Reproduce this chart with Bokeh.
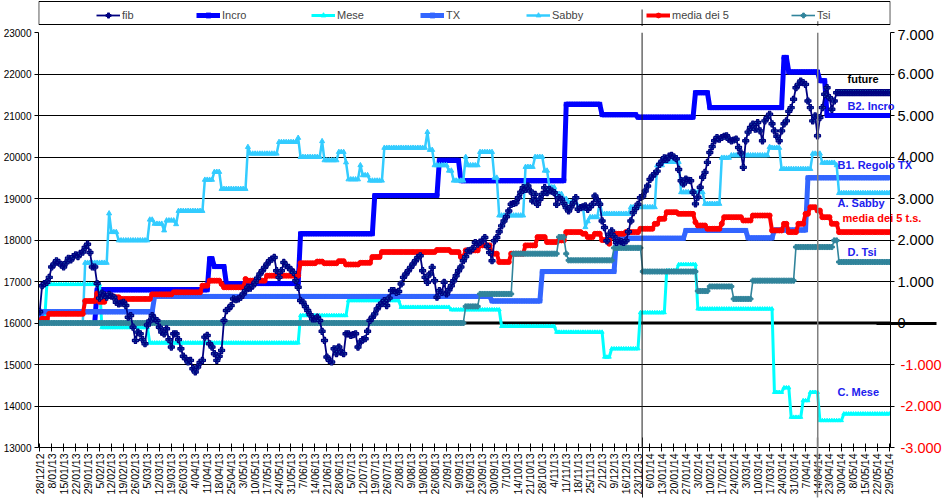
import math
from bokeh.plotting import figure
from bokeh.layouts import column
from bokeh.models import (Range1d, LinearAxis, FixedTicker, Legend, LegendItem,
                          Span, BoxAnnotation)
from bokeh.embed import file_html
from bokeh.resources import INLINE

NaN = float("nan")

date_labels = ["28/12/12", "8/01/13", "15/01/13", "22/01/13", "29/01/13", "5/02/13", "12/02/13",
               "19/02/13", "26/02/13", "5/03/13", "12/03/13", "19/03/13", "26/03/13", "4/04/13",
               "11/04/13", "18/04/13", "25/04/13", "3/05/13", "10/05/13", "17/05/13", "24/05/13",
               "31/05/13", "7/06/13", "14/06/13", "21/06/13", "28/06/13", "5/07/13", "12/07/13",
               "19/07/13", "26/07/13", "2/08/13", "9/08/13", "19/08/13", "26/08/13", "2/09/13",
               "9/09/13", "16/09/13", "23/09/13", "30/09/13", "7/10/13", "14/10/13", "21/10/13",
               "28/10/13", "4/11/13", "11/11/13", "18/11/13", "25/11/13", "2/12/13", "9/12/13",
               "16/12/13", "23/12/13", "6/01/14", "13/01/14", "20/01/14", "27/01/14", "3/02/14",
               "10/02/14", "17/02/14", "24/02/14", "3/03/14", "10/03/14", "17/03/14", "24/03/14",
               "31/03/14", "7/04/14", "14/04/14", "23/04/14", "30/04/14", "8/05/14", "15/05/14",
               "22/05/14", "29/05/14"]

# future (left axis)
fib = [16270, 16900, 16950, 16980, 17100, 17350, 17420, 17500, 17460, 17400,
       17350, 17450, 17560, 17520, 17600, 17640, 17600, 17680, 17710, 17820,
       17900, 17700, 17350, 17350, 16950, 16600, 16720, 16680, 16620, 16690,
       16650, 16620, 16500, 16460, 16480, 16500, 16420, 16140, 16180, 15900,
       15580, 15780, 15740, 15600, 15500, 15950, 16050, 16180, 16100, 16060,
       15900, 15780, 15740, 15860, 15600, 15420, 15740, 15740, 15600, 15380,
       15200, 15140, 15060, 15100, 14900, 14820, 14940, 15050, 15100, 15660,
       15700, 15500, 15420, 15260, 15100, 15200, 15340, 16060, 16300, 16350,
       16420, 16580, 16560, 16580, 16620, 16700, 16780, 16860, 16840, 16900,
       16980, 17080, 17180, 17260, 17340, 17420, 17500, 17540, 17580, 17260,
       17100, 17260, 17460, 17380, 17340, 17280, 17220, 17020, 16860, 16540,
       16500, 16400, 16300, 16200, 16100, 16100, 16140, 16060, 15800, 15580,
       15180, 15100, 15060, 15380, 15260, 15420, 15300, 15260, 15740, 15740,
       15700, 15720, 15740, 15420, 15540, 15600, 15620, 15800, 16060, 16140,
       16220, 16340, 16420, 16480, 16540, 16420, 16600, 16780, 16780, 16740,
       16760, 16940, 17100, 17180, 17260, 17340, 17420, 17500, 17580, 17620,
       17260, 17100, 16980, 17180, 17340, 17020, 16620, 16780, 16740, 16980,
       16700, 16800, 16900, 17020, 17140, 17260, 17350, 17500, 17600, 17740,
       17740, 17800, 17940, 17900, 17950, 17980, 18060, 17850, 17700, 17500,
       17980, 18060, 18200, 18340, 18460, 18560, 18700, 18860, 18880, 18900,
       19020, 19150, 19260, 19220, 19300, 19180, 18940, 19100, 18860, 18980,
       19100, 19260, 19140, 19220, 19180, 19140, 18860, 19020, 18980, 18880,
       18780, 18700, 18800, 18900, 19020, 18740, 18780, 18800, 18820, 18740,
       18800, 18860, 19060, 18960, 18860, 18460, 18300, 17980, 18140, 18220,
       18080, 17940, 17980, 17960, 17940, 17980, 18200, 18460, 18660, 18760,
       18860, 19020, 19060, 19180, 19300, 19460, 19540, 19600, 19660, 19820,
       19900, 19980, 19940, 20020, 20040, 20000, 19960, 19700, 19430, 19350,
       19470, 19440, 19430, 19150, 18870, 19030, 19270, 19510, 19630, 19870,
       20110, 20250, 20390, 20470, 20430, 20470, 20500, 20510, 20430, 20390,
       20410, 20430, 20230, 20100, 19750, 20390, 20600, 20710, 20790, 20670,
       20830, 20630, 20390, 20870, 20950, 21030, 20800, 20630, 20500, 20390,
       20630, 20800, 20870, 21100, 21190, 21390, 21670, 21750, 21830, 21790,
       21750, 21350, 21190, 20870, 20990, 20510, 20950, 21190, 21510, 21670,
       21430, 21150, 21350, 21550, 21550, 21550, 21550, 21550, 21550, 21550,
       21550, 21550, 21550, 21550, 21550, 21550, 21550, 21550, 21550, 21550,
       21550, 21550, 21550, 21550, 21550, 21550]

# trading systems (right axis), stored as (value, number of days)
incro_runs = [(NaN, 23), (0, 1), (800, 47), (1550, 2), (1360, 5), (950, 31), (2150, 31), (3070, 27),
              (3920, 9), (3430, 44), (5270, 15), (5020, 15), (4960, 24), (5550, 6), (5190, 31),
              (6400, 2), (6050, 13), (5840, 3), (5000, 27)]
mese_runs = [(0, 3), (930, 23), (-110, 20), (-480, 63), (180, 20), (540, 22), (380, 21), (320, 21),
             (-80, 23), (-220, 20), (-820, 3), (-620, 12), (250, 11), (1260, 5), (1410, 8),
             (340, 32), (-1670, 4), (-1560, 3), (-2270, 5), (-1870, 3), (-1670, 4), (-2350, 10),
             (-2190, 20)]
tx_runs = [(0, 1), (270, 47), (640, 141), (530, 21), (1240, 31), (2040, 29), (2230, 26),
           (2050, 11), (2240, 14), (3500, 35)]
sabby_runs = [(NaN, 18), (0, 1), (1450, 10), (2640, 1), (2190, 3), (1990, 13), (2490, 2), (2390, 4),
              (2230, 1), (2470, 4), (2380, 1), (2700, 11), (3450, 4), (3640, 3), (3230, 11),
              (4240, 1), (4080, 12), (4360, 8), (4460, 1), (4000, 9), (4380, 1), (3920, 6),
              (4120, 3), (3870, 1), (3460, 5), (3800, 1), (3560, 3), (3430, 6), (4220, 18),
              (4600, 1), (4170, 2), (3800, 6), (3670, 2), (3430, 5), (4000, 1), (3800, 5),
              (4120, 6), (3500, 2), (2590, 11), (3760, 4), (4000, 4), (3670, 2), (3270, 3),
              (3110, 3), (2990, 2), (2910, 4), (2790, 3), (2310, 1), (2450, 1), (2550, 4),
              (2910, 1), (2630, 12), (2790, 11), (3800, 3), (3880, 7), (3150, 10), (2870, 7),
              (3980, 4), (4040, 16), (4240, 1), (4220, 4), (3710, 13), (4080, 4), (3860, 6),
              (3800, 1), (3130, 22)]
media_runs = [(20, 1), (100, 3), (220, 15), (530, 5), (710, 1), (510, 3), (660, 3), (620, 3),
              (580, 13), (690, 9), (740, 12), (900, 3), (1020, 5), (940, 1), (860, 9), (1060, 1),
              (1020, 8), (1140, 14), (1440, 7), (1480, 3), (1440, 6), (1490, 3), (1410, 6),
              (1450, 5), (1590, 4), (1710, 23), (1760, 6), (1710, 4), (1590, 2), (1750, 6),
              (1870, 5), (1670, 3), (1470, 5), (1670, 6), (1870, 5), (2070, 4), (1950, 5),
              (1990, 3), (2190, 7), (2150, 2), (2070, 3), (2150, 3), (2000, 3), (1910, 1),
              (2150, 6), (2190, 6), (2270, 6), (2390, 2), (2510, 3), (2670, 5), (2630, 7),
              (2430, 1), (2350, 4), (2270, 6), (2390, 1), (2550, 8), (2470, 4), (2590, 8),
              (2230, 5), (2390, 2), (2190, 4), (2390, 3), (2630, 2), (2790, 3), (2710, 2),
              (2550, 4), (2390, 3), (2190, 22)]
tsi_runs = [(0, 178), (400, 6), (700, 14), (1670, 19), (2070, 3), (1670, 1), (1510, 19),
            (1810, 12), (1240, 23), (770, 5), (880, 10), (580, 8), (1020, 18), (1830, 16),
            (1990, 2), (1470, 22)]

left_ticks = list(range(13000, 23001, 1000))
right_ticks = list(range(-3000, 7001, 1000))
event_days = [251.7, 325.1]   # the two vertical marker lines
event_colors = ["#202020", "#808080"]
event_widths = [1, 1.5]

# end-of-line series names (left-axis level where each name sits)
name_black = {21870: "future"}
name_blue_a = {21217: "B2. Incro", 17711: "D. Tsi"}
name_blue_b = {19819: "B1. Regolo TX", 18892: "A. Sabby", 14349: "C. Mese"}
name_red = {18530: "media dei 5 t.s."}


def expand(runs):
    out = []
    for v, k in runs:
        out.extend([v] * k)
    return out


incro = expand(incro_runs)
mese = expand(mese_runs)
tx = expand(tx_runs)
sabby = expand(sabby_runs)
media = expand(media_runs)
tsi = expand(tsi_runs)

n = len(fib)
xs = list(range(n))
FONT = "Liberation Sans"
NAVY = "#000080"
BLUE_TXT = "#2020EE"

styles = {
    "Incro": ("#0000FF", 5, "square", 4),
    "Mese": ("#00FFFF", 3, "triangle", 4),
    "TX": ("#3366FF", 5, "square", 4),
    "Sabby": ("#33CCFF", 2.5, "triangle", 5),
    "media dei 5": ("#FF0000", 4, "circle", 5),
    "Tsi": ("#31849B", 1.6, "plus", 5),
}

# ---------------------------------------------------------------- main chart
p = figure(width=945, height=473, output_backend="svg", toolbar_location=None,
           x_range=Range1d(-0.5, n - 0.5), y_range=Range1d(13000, 23000),
           min_border_left=37, min_border_right=55, min_border_top=6, min_border_bottom=52,
           background_fill_color="white", border_fill_color="white")
p.outline_line_color = None
p.extra_y_ranges = {"r": Range1d(-3000, 7000)}

xa = p.xaxis[0]
xa.ticker = FixedTicker(ticks=list(range(0, n, 5)))
xa.major_label_overrides = {i * 5: lab for i, lab in enumerate(date_labels)}
xa.major_label_orientation = math.pi / 2
xa.major_tick_in = 4
xa.major_tick_out = 4
xa.minor_tick_line_color = None
xa.axis_line_color = "black"
xa.major_tick_line_color = "black"
xa.major_label_text_font = FONT
xa.major_label_text_font_size = "10.5px"
xa.major_label_text_color = "black"
xa.major_label_standoff = 2

ya = p.yaxis[0]
ya.ticker = FixedTicker(ticks=left_ticks)
ya.major_tick_in = 0
ya.major_tick_out = 4
ya.minor_tick_line_color = None
ya.axis_line_color = "black"
ya.major_tick_line_color = "black"
ya.major_label_text_font = FONT
ya.major_label_text_font_size = "10px"
ya.major_label_text_color = "black"
ya.major_label_standoff = 3

p.xgrid.visible = False
p.ygrid.ticker = ya.ticker
p.ygrid.grid_line_color = "black"
p.ygrid.grid_line_width = 1


def plain_axis(ticks, overrides, range_name=None):
    kw = {"y_range_name": range_name} if range_name else {}
    ax = LinearAxis(ticker=FixedTicker(ticks=ticks), **kw)
    ax.major_label_overrides = overrides
    ax.axis_line_color = None
    ax.major_tick_line_color = None
    ax.minor_tick_line_color = None
    ax.major_tick_in = 0
    ax.major_tick_out = 0
    ax.major_label_text_font = FONT
    return ax


# right axis: black labels for values >= 0
ra = LinearAxis(y_range_name="r", ticker=FixedTicker(ticks=right_ticks))
ra.major_label_overrides = {v: (f"{v // 1000}.000" if v > 0 else ("0" if v == 0 else " "))
                            for v in right_ticks}
ra.major_tick_in = 0
ra.major_tick_out = 4
ra.minor_tick_line_color = None
ra.axis_line_color = "black"
ra.major_tick_line_color = "black"
ra.major_label_text_font = FONT
ra.major_label_text_font_size = "14.5px"
ra.major_label_text_color = "black"
ra.major_label_standoff = 3
p.add_layout(ra, "right")

# zero-level axis crossing running past the right axis (tick drawn back toward the plot)
az = plain_axis([0], {0: ""}, "r")
az.major_tick_line_color = "black"
az.major_tick_line_width = 3
az.major_tick_in = 60
az.major_label_standoff = -10
p.add_layout(az, "right")

# same scale, red labels for negative values, drawn over the same column
ra2 = plain_axis(right_ticks, {v: (f"-{abs(v) // 1000}.000" if v < 0 else " ")
                               for v in right_ticks}, "r")
ra2.major_label_text_font_size = "14.5px"
ra2.major_label_text_color = "#FF0000"
ra2.major_label_standoff = -36
p.add_layout(ra2, "right")

# series names at the right end of the lines
for names, color, standoff in [(name_black, "black", -97), (name_blue_a, BLUE_TXT, -97),
                               (name_blue_b, BLUE_TXT, -107), (name_red, "#FF0000", -102)]:
    ax = plain_axis(list(names.keys()), names)
    ax.major_label_text_font_size = "11px"
    ax.major_label_text_font_style = "bold"
    ax.major_label_text_color = color
    ax.major_label_standoff = standoff
    p.add_layout(ax, "right")

# the two event lines continue down through the date labels
for d, c, w in zip(event_days, event_colors, event_widths):
    ev = plain_axis([d], {d: ""})
    ev.major_tick_line_color = c
    ev.major_tick_line_width = w
    ev.major_tick_in = 60
    ev.major_label_standoff = -30
    p.add_layout(ev, "below")

# thick zero line
p.add_layout(Span(location=16000, dimension="width", line_color="black", line_width=3,
                  level="underlay"))


def series(fig, name, y):
    color, lw, marker, msize = styles[name]
    fig.line(xs, y, line_color=color, line_width=lw, y_range_name="r")
    fig.scatter(xs, y, marker=marker, size=msize, line_color=color, fill_color=color,
                y_range_name="r")


series(p, "Incro", incro)
series(p, "Mese", mese)
series(p, "TX", tx)
series(p, "Sabby", sabby)
series(p, "media dei 5", media)
series(p, "Tsi", tsi)
p.line(xs, fib, line_color=NAVY, line_width=1.8)
p.scatter(xs, fib, marker="plus", size=6, line_color=NAVY, line_width=1.2)
p.scatter(xs, fib, marker="diamond", size=3.5, color=NAVY)

for d, c, w in zip(event_days, event_colors, event_widths):
    p.add_layout(Span(location=d, dimension="height", line_color=c, line_width=w))

# ---------------------------------------------------------------- legend strip
px_per_day = (945 - 37 - 55) / n
inset = 0.3 / px_per_day
h = figure(width=945, height=26, output_backend="svg", toolbar_location=None,
           x_range=Range1d(-0.5, n - 0.5), y_range=Range1d(26, 0),
           min_border_left=37, min_border_right=55, min_border_top=0, min_border_bottom=0,
           x_axis_location=None, y_axis_location=None,
           background_fill_color="white", border_fill_color="white")
h.outline_line_color = None
h.grid.visible = False

h.add_layout(BoxAnnotation(left=-0.5 + inset, right=n - 0.5 - inset, top=1, bottom=24,
                           fill_alpha=0, fill_color=None, line_color="black",
                           line_alpha=1, line_width=1))
h.segment(x0=event_days, y0=[9, 20.7], x1=event_days, y1=[26, 26],
          line_color=event_colors, line_width=event_widths)

leg_renderers = {"fib": [h.line([NaN], [NaN], line_color=NAVY, line_width=1.8),
                         h.scatter([NaN], [NaN], marker="plus", size=6, line_color=NAVY,
                                   line_width=1.2),
                         h.scatter([NaN], [NaN], marker="diamond", size=3.5, color=NAVY)]}
for name in ["Incro", "Mese", "TX", "Sabby", "media dei 5", "Tsi"]:
    color, lw, marker, msize = styles[name]
    leg_renderers[name] = [h.line([NaN], [NaN], line_color=color, line_width=lw),
                           h.scatter([NaN], [NaN], marker=marker, size=msize,
                                     line_color=color, fill_color=color)]

legend_x = {"fib": 58, "Incro": 158, "Mese": 273, "TX": 382, "Sabby": 488,
            "media dei 5": 608, "Tsi": 753}
for name, vx in legend_x.items():
    lg = Legend(items=[LegendItem(label=name, renderers=leg_renderers[name])],
                location=(vx, 5.5), orientation="horizontal", padding=2, margin=0,
                spacing=0, glyph_width=24, glyph_height=12, label_height=12,
                label_standoff=2, border_line_color=None, background_fill_alpha=0,
                label_text_font=FONT, label_text_font_size="11px")
    h.add_layout(lg)

layout = column(h, p, spacing=0)
open("out.html", "w").write(file_html(layout, INLINE))
